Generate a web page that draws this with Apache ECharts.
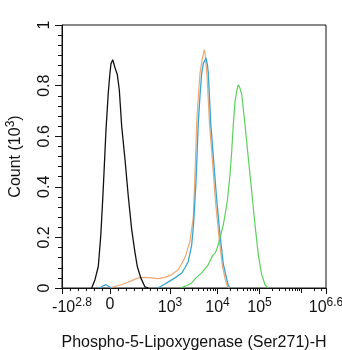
<!DOCTYPE html>
<html>
<head>
<meta charset="utf-8">
<script src="https://cdn.jsdelivr.net/npm/echarts@6/dist/echarts.min.js"></script>
<style>html,body{margin:0;padding:0;background:#fff}#c{width:342px;height:350px}</style>
</head>
<body>
<div id="c"></div>
<script>
// x axis in display channels (biexponential display scale)
const xTickPos = [0, 48, 108, 155.5, 197.5, 264];
const xTickLabels = ['{neg|-10}{sup|2.8}', '{b|0}', '{b|10}{sup|3}', '{b|10}{sup|4}', '{b|10}{sup|5}', '{b|10}{sup|6.6}'];
const xLinearMinor = [8, 16, 24, 32, 40, 56, 64, 72, 80, 88, 95, 100, 104];
const decadePos = [108, 155.5, 197.5, 239.5, 281.5]; // 10^3 .. 10^7
const yTickVals = [0, 0.2, 0.4, 0.6, 0.8, 1.04];
const yTickLabels = ['0', '0.2', '0.4', '0.6', '0.8', '1'];

// Histograms (channel, count x10^3)
const blackX = [29.7, 33, 36.3, 38.7, 40.7, 42.3, 44, 46.3, 48, 49, 50.7, 52, 53, 55.3, 57.3, 59.7, 63, 66.3, 69.7, 73, 75.3, 78.7, 83, 86.3];
const blackY = [0, 0.033, 0.085, 0.204, 0.349, 0.481, 0.626, 0.773, 0.852, 0.887, 0.903, 0.885, 0.871, 0.844, 0.784, 0.639, 0.508, 0.362, 0.231, 0.14, 0.085, 0.041, 0.004, 0];

const blueX = [38, 41, 44, 47, 49.5, 60, 96, 103, 108, 113, 119.7, 123, 126.3, 129.7, 131.7, 134, 136.3, 138, 139.7, 141.5, 143, 144, 145.5, 146.3, 148.7, 151.3, 154.7, 158, 161.3, 164.7, 166.3, 168];
const blueY = [0, 0.008, 0.013, 0.006, 0, null, 0, 0.016, 0.028, 0.04, 0.059, 0.08, 0.105, 0.171, 0.26, 0.42, 0.654, 0.76, 0.85, 0.89, 0.9, 0.91, 0.88, 0.85, 0.654, 0.52, 0.35, 0.21, 0.095, 0.035, 0.01, 0];

const orangeX = [48, 49.7, 54, 59.7, 64, 69.7, 76.3, 83, 89.7, 96.3, 103, 109.7, 116.3, 123, 128, 131.3, 133, 134.7, 136.5, 138, 140, 142.3, 143.3, 145, 147.5, 150.5, 153.5, 157, 160.5, 163.5, 165.5, 167];
const orangeY = [0, 0.004, 0.008, 0.013, 0.02, 0.029, 0.04, 0.042, 0.04, 0.037, 0.042, 0.053, 0.072, 0.12, 0.185, 0.28, 0.455, 0.653, 0.77, 0.85, 0.9, 0.943, 0.92, 0.84, 0.65, 0.5, 0.34, 0.2, 0.085, 0.03, 0.005, 0];

const greenX = [118, 120, 125, 129.7, 134, 139.7, 146.3, 149.7, 151.3, 153.5, 156.3, 161.3, 165.3, 168, 169.7, 171.3, 173, 174.8, 176.3, 178, 179.7, 183, 186.3, 189.7, 193, 196.3, 199.7, 203, 206.3];
const greenY = [0, 0.004, 0.01, 0.02, 0.04, 0.06, 0.092, 0.122, 0.132, 0.14, 0.171, 0.25, 0.343, 0.448, 0.54, 0.646, 0.738, 0.78, 0.804, 0.79, 0.765, 0.646, 0.514, 0.382, 0.25, 0.132, 0.053, 0.013, 0];

const XMIN = 0, XMAX = 264;
// log minor ticks between decades
const xLogMinor = [];
for (let d = 0; d < decadePos.length - 1; d++) {
  const a = decadePos[d], b = decadePos[d + 1];
  for (let k = 2; k <= 9; k++) {
    const p = a + (b - a) * Math.log10(k);
    if (p < XMAX) xLogMinor.push(+p.toFixed(2));
  }
}
const xMinor = xLinearMinor.concat(xLogMinor);
const xMid = [decadePos[3]]; // 10^6 unlabeled tick
const yMinor = [];
for (let v = 0.04; v < 1.001; v += 0.04) {
  const r = Math.round(v * 100) / 100;
  if (Math.abs(r * 5 - Math.round(r * 5)) > 1e-6 || r === 1) yMinor.push(r);
}

const pair = (xs, ys) => xs.map((x, i) => [x, ys[i]]);
const FONT = '"Liberation Sans", Arial, Helvetica, sans-serif';
const rich = {
  b: { fontSize: 16, fontFamily: FONT, color: '#111' },
  neg: { fontSize: 16, fontFamily: FONT, color: '#111', padding: [0, 0, 0, 20] },
  sup: { fontSize: 12, fontFamily: FONT, color: '#111', padding: [0, 0, 9, 0] }
};

const baseX = { type: 'value', min: XMIN, max: XMAX, gridIndex: 0, splitLine: { show: false } };
const baseY = { type: 'value', min: 0, max: 1.04, gridIndex: 0, splitLine: { show: false } };

const option = {
  animation: false,
  backgroundColor: '#fff',
  grid: { left: 62, right: 16, top: 25, bottom: 62, show: true, borderColor: '#111', borderWidth: 1, containLabel: false, outerBoundsMode: 'none' },
  xAxis: [
    Object.assign({}, baseX, {
      name: 'Phospho-5-Lipoxygenase (Ser271)-H',
      nameLocation: 'middle', nameGap: 47,
      nameTextStyle: { fontSize: 16, fontFamily: FONT, color: '#111' },
      axisLine: { show: true, lineStyle: { color: '#111', width: 1 } },
      axisTick: { show: true, customValues: xTickPos, length: 6, lineStyle: { color: '#111' } },
      axisLabel: {
        show: true, customValues: xTickPos, margin: 9,
        formatter: function (v) {
          const i = xTickPos.findIndex(p => Math.abs(p - v) < 1e-6);
          return i >= 0 ? xTickLabels[i] : '';
        },
        rich: rich
      }
    }),
    Object.assign({}, baseX, {
      position: 'bottom',
      axisLine: { show: false },
      axisTick: { show: true, customValues: xMinor, length: 3, lineStyle: { color: '#111' } },
      axisLabel: { show: false }
    }),
    Object.assign({}, baseX, {
      position: 'bottom',
      axisLine: { show: false },
      axisTick: { show: true, customValues: xMid, length: 5, lineStyle: { color: '#111' } },
      axisLabel: { show: false }
    })
  ],
  yAxis: [
    Object.assign({}, baseY, {
      name: 'Count (10{sup|3})',
      nameLocation: 'middle', nameGap: 36, nameRotate: 90,
      nameTextStyle: { fontSize: 16, fontFamily: FONT, color: '#111', rich: rich },
      axisLine: { show: true, lineStyle: { color: '#111', width: 1 } },
      axisTick: { show: true, customValues: yTickVals, length: 7, lineStyle: { color: '#111' } },
      axisLabel: {
        show: true, customValues: yTickVals, rotate: 90, margin: 9,
        fontSize: 16, fontFamily: FONT, color: '#111',
        formatter: function (v) {
          const i = yTickVals.findIndex(p => Math.abs(p - v) < 1e-6);
          return i >= 0 ? yTickLabels[i] : '';
        }
      }
    }),
    Object.assign({}, baseY, {
      position: 'left',
      axisLine: { show: false },
      axisTick: { show: true, customValues: yMinor, length: 4, lineStyle: { color: '#111' } },
      axisLabel: { show: false }
    })
  ],
  series: [
    { type: 'line', name: 'orange', data: pair(orangeX, orangeY), showSymbol: false, lineStyle: { color: '#EDA874', width: 1.2 }, z: 2 },
    { type: 'line', name: 'blue', data: pair(blueX, blueY), showSymbol: false, connectNulls: false, lineStyle: { color: '#3AA3D0', width: 1.3 }, z: 3 },
    { type: 'line', name: 'green', data: pair(greenX, greenY), showSymbol: false, lineStyle: { color: '#5CD05A', width: 1.2 }, z: 3 },
    { type: 'line', name: 'black', data: pair(blackX, blackY), showSymbol: false, lineStyle: { color: '#111', width: 1.3 }, z: 4 }
  ]
};
const chart = echarts.init(document.getElementById('c'), null, { renderer: 'canvas' });
chart.setOption(option);
</script>
</body>
</html>
